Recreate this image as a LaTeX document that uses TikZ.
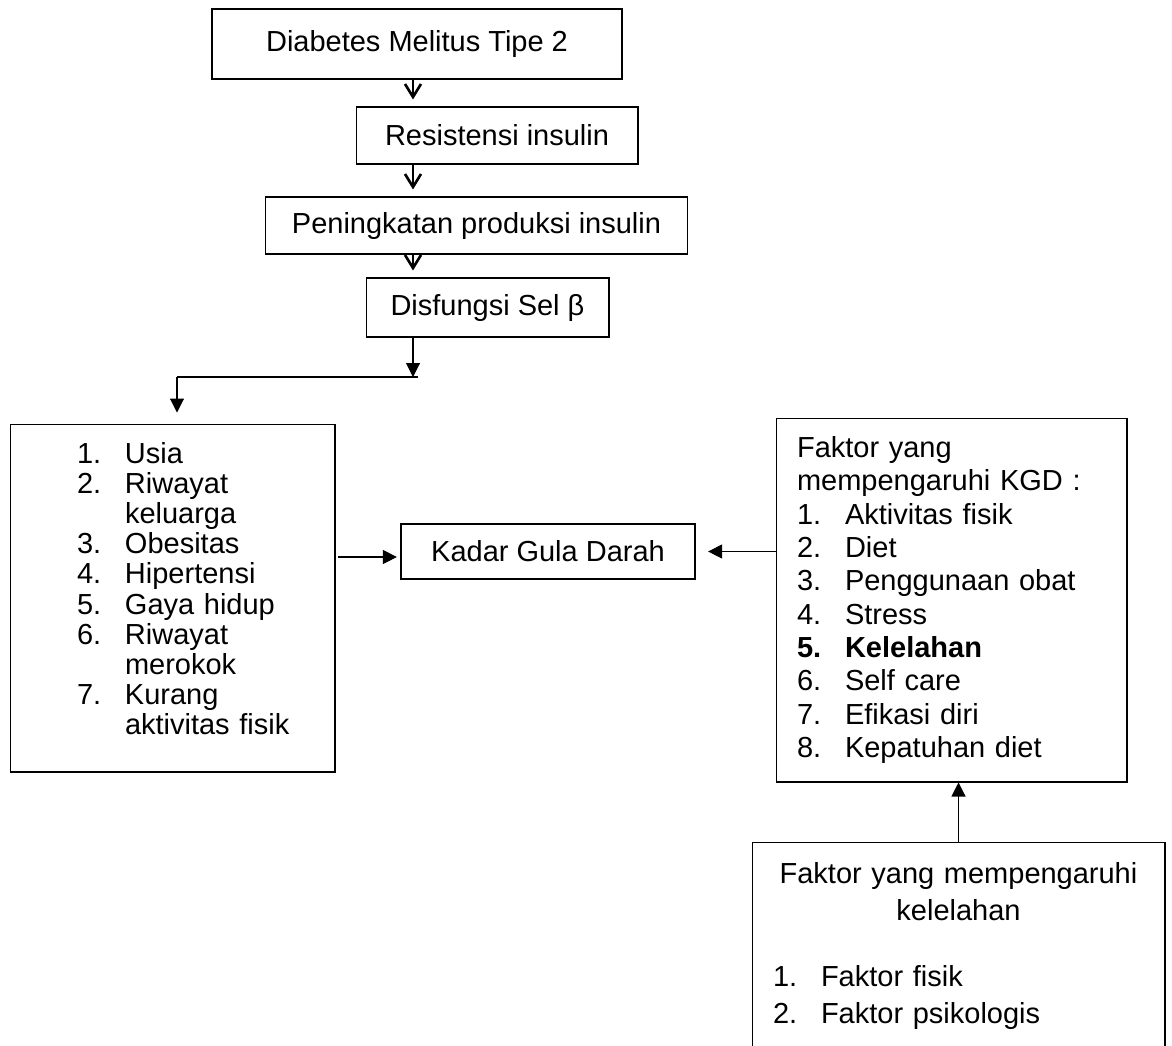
\documentclass[tikz,border=0pt]{standalone}
\usepackage{fontspec}
\setmainfont{Liberation Sans}
\usepackage{tikz}
\usetikzlibrary{arrows.meta, calc}

\newcommand{\itm}[2]{\makebox[0.96cm][l]{#1}\mbox{#2}}
\newcommand{\cont}[1]{\hspace*{0.96cm}\mbox{#1}}

\begin{document}
\begin{tikzpicture}[
  x=0.02cm, y=-0.02cm, line width=0.6pt,
  font=\fontsize{16.5}{17.1}\selectfont,
  block/.style={rectangle, draw, inner sep=0pt},
  thickblock/.style={block, line width=1.3pt},
  listblock/.style={block, align=left},
  flow/.style={-{Straight Barb[length=2.6mm,width=3.2mm,line width=1.5pt]}, shorten >=0.14cm},
  pointer/.style={-{Triangle[length=2.8mm,width=2.8mm]}}
]
\useasboundingbox (0,0) rectangle (1172,1045);
\clip (0,0) rectangle (1172,1045);

\node[thickblock, minimum width=8.2cm, minimum height=1.4cm] (diabetes) at (417,44) {Diabetes Melitus Tipe 2};
\node[block, minimum width=5.64cm, minimum height=1.14cm] (resistensi) at (497,135.5) {Resistensi insulin};
\node[block, minimum width=8.46cm, minimum height=1.14cm] (peningkatan) at (476.5,225.5) {Peningkatan produksi insulin};
\node[block, minimum width=4.86cm, minimum height=1.18cm] (disfungsi) at (487.5,307.5) {Disfungsi Sel β};
\node[thickblock, minimum width=5.88cm, minimum height=1.1cm] (kadar) at (548,551.5) {Kadar Gula Darah};

\node[listblock, minimum height=6.96cm, text width=3.82cm, inner xsep=1.34cm, inner ysep=0pt] (risiko) at (172.5,598) {%
\itm{1.}{Usia}\\
\itm{2.}{Riwayat}\\
\cont{keluarga}\\
\itm{3.}{Obesitas}\\
\itm{4.}{Hipertensi}\\
\itm{5.}{Gaya hidup}\\
\itm{6.}{Riwayat}\\
\cont{merokok}\\
\itm{7.}{Kurang}\\
\cont{aktivitas fisik}\rule[-0.38cm]{0pt}{0pt}};

\node[listblock, font=\fontsize{16.5}{19}\selectfont, minimum height=7.28cm, text width=6.18cm, inner xsep=0.42cm, inner ysep=0pt] (faktor) at (951.5,600) {%
Faktor yang\\
mempengaruhi KGD :\\
\itm{1.}{Aktivitas fisik}\\
\itm{2.}{Diet}\\
\itm{3.}{Penggunaan obat}\\
\itm{4.}{Stress}\\
\textbf{\itm{5.}{Kelelahan}}\\
\itm{6.}{Self care}\\
\itm{7.}{Efikasi diri}\\
\itm{8.}{Kepatuhan diet}};

\node[listblock, font=\fontsize{16.5}{21}\selectfont, anchor=north, text width=7.42cm, inner xsep=0.42cm, inner ysep=0.4cm] (kelelahan) at (958.5,842) {%
\makebox[7.42cm]{Faktor yang mempengaruhi}\\
\makebox[7.42cm]{kelelahan}\\[0.58cm]
\itm{1.}{Faktor fisik}\\
\itm{2.}{Faktor psikologis}\rule[-3cm]{0pt}{0pt}};

% alur utama
\coordinate (spine) at (413,0);
\draw[flow] (diabetes.south -| spine) -- (resistensi.north -| spine);
\draw[flow] (resistensi.south -| spine) -- (peningkatan.north -| spine);
\draw[flow] (peningkatan.south -| spine) -- (disfungsi.north -| spine);

\coordinate (split) at (413,377);
\coordinate (bend) at (177,377);
\draw[pointer] (disfungsi.south -| split) -- (split);
\draw ([xshift=0.1cm]split) -- (bend);
\draw[pointer, shorten >=0.22cm] (bend) -- (bend |- risiko.north);

% ke kadar gula darah
\draw[pointer, shorten <=0.06cm, shorten >=0.06cm] ($(risiko.east |- kadar.west)+(0,5.5)$) -- ($(kadar.west)+(0,5.5)$);
\draw[pointer, shorten >=0.24cm] (faktor.west |- kadar.east) -- (kadar.east);
\draw[pointer] (kelelahan.north) -- (faktor.south -| kelelahan.north);

\end{tikzpicture}
\end{document}
